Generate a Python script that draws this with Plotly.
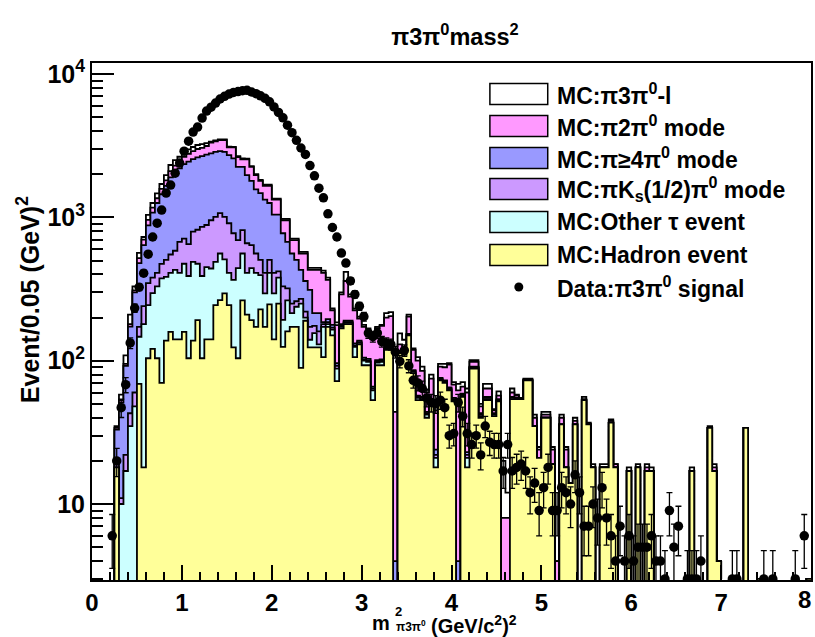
import numpy as np
import plotly.graph_objects as go

# ---------------- data (bins of 0.05 (GeV/c^2)^2 from 0 to 8) ----------------
bin_width = 0.05
n_bins = 160

hadron = [
    0, 0, 0, 0, 0, 18, 0, 0, 0, 0,
    69, 18, 104, 121, 104, 70, 138, 159, 141, 141,
    159, 104, 138, 192, 104, 141, 141, 244, 265, 295,
    244, 124, 104, 264, 210, 192, 172, 228, 172, 247,
    141, 250, 125, 160, 172, 172, 89, 190, 124, 124,
    124, 106, 172, 150, 72, 168, 180, 180, 106, 130,
    93, 93, 53, 93, 93, 119, 119, 0, 113, 110,
    150, 82, 53, 53, 40, 50, 18, 73, 70, 62,
    52, 0, 56, 18, 88, 88, 40, 53, 53, 41,
    52, 0, 0, 54, 54, 54, 73, 73, 35, 21,
    40, 40, 19, 0, 36, 18, 14, 36, 0, 53,
    36, 18, 0, 18, 18, 37, 18, 0, 0, 17,
    0, 18, 0, 17, 17, 0, 0, 0, 0, 0,
    0, 0, 0, 17, 0, 0, 0, 34, 17, 4,
    0, 0, 0, 0, 0, 34, 0, 0, 3, 0,
    0, 0, 0, 0, 0, 0, 0, 0, 0, 3,
]

other_tau = [
    0, 0, 0, 0, 0, 0, 10, 17, 35, 48,
    78, 162, 140, 175, 226, 305, 247, 251, 289, 269,
    316, 286, 352, 283, 286, 309, 299, 246, 295, 215,
    166, 242, 338, 296, 200, 250, 238, 167, 123, 163,
    154, 130, 68, 104, 43, 66, 161, 10, 16, 32,
    6, 66, 8, 15, 16, 4, 4, 4, 19, 3,
    7, 5, 9, 4, 5, 2, 2, 0, 2, 2,
    2, 2, 2, 1, 2, 2, 3, 1, 1, 1,
    1, 0, 1, 3, 1, 1, 1, 1, 1, 1,
    1, 0, 0, 1, 0, 0, 0, 0, 0, 0,
] + [0] * 60

pi_ks = [
    0, 0, 0, 0, 0, 1, 1, 5, 8, 12,
    25, 60, 104, 84, 80, 99, 121, 141, 155, 265,
    235, 260, 305, 345, 470, 435, 515, 520, 510, 500,
    500, 409, 253, 255, 250, 198, 150, 111, 115, 96,
    115, 40, 137, 56, 35, 22, 20, 20, 32, 19,
    30, 8, 6, 5, 4, 3, 2, 2, 3, 2,
    2, 2, 2, 2, 2, 1, 1, 0, 1, 1,
    1, 1, 1, 1, 1, 1, 1, 1, 1, 1,
    1, 0, 1, 1, 1, 1, 1, 1, 1, 0,
    0, 0, 0, 0, 1, 0, 0, 0, 0, 0,
] + [0] * 60

pi_ge4pi0 = [
    0, 0, 0, 0, 0, 14, 40, 70, 130, 240,
    308, 400, 532, 700, 850, 976, 1154, 1349, 1495, 1525,
    1640, 1800, 1755, 1800, 1820, 1855, 1845, 1860, 1830, 1860,
    1810, 1805, 1555, 1435, 1310, 1160, 1010, 969, 920, 754,
    635, 625, 445, 355, 310, 246, 160, 140, 140, 40,
    55, 6, 9, 8, 4, 5, 4, 4, 4, 3,
    3, 3, 2, 2, 2, 2, 2, 4, 1, 1,
    1, 1, 1, 1, 1, 1, 2, 1, 1, 1,
    1, 4, 1, 1, 1, 1, 1, 1, 1, 1,
    1, 0, 0, 1, 0, 0, 0, 0, 0, 0,
] + [0] * 60

pi2pi0 = [
    0, 0, 0, 0, 0, 1, 2, 3, 7, 10,
    40, 60, 80, 90, 100, 130, 150, 200, 220, 250,
    300, 330, 350, 380, 380, 410, 530, 530, 560, 590,
    360, 500, 390, 290, 570, 450, 400, 325, 330, 400,
    285, 285, 180, 280, 135, 189, 130, 200, 118, 215,
    215, 224, 171, 47, 81, 110, 170, 90, 93, 59,
    67, 57, 84, 67, 73, 76, 81, 40, 13, 11,
    49, 33, 43, 29, 16, 21, 21, 15, 17, 29,
    13, 58, 7, 37, 7, 7, 5, 8, 8, 2,
    3, 8, 8, 4, 2, 0, 1, 1, 5, 3,
    2, 2, 5, 4, 4, 6, 0, 2, 0, 1,
    0, 0, 0, 0, 0, 1, 1, 0, 0, 0,
    0, 0, 0, 1, 0, 0, 0, 0, 0, 0,
    0, 0, 0, 0, 0, 0, 0, 0, 1, 0,
] + [0] * 20

pi3pi0_l = [
    0, 0, 0, 0, 0, 1, 5, 14, 30, 20,
    46, 30, 80, 90, 110, 130, 160, 220, 210, 200,
    220, 200, 200, 200, 190, 150, 50, 40, 40, 40,
    40, 30, 40, 40, 30, 30, 30, 30, 30, 30,
    20, 20, 20, 20, 15, 15, 15, 15, 15, 15,
    15, 15, 14, 7, 8, 10, 57, 10, 7, 6,
    6, 5, 5, 4, 3, 15, 13, 73, 25, 15,
    7, 3, 6, 6, 3, 5, 5, 4, 5, 2,
    3, 7, 5, 4, 3, 3, 2, 5, 5, 1,
    4, 12, 4, 4, 1, 1, 1, 1, 2, 1,
    2, 2, 1, 0, 2, 1, 0, 2, 0, 2,
    1, 1, 0, 1, 1, 1, 0, 0, 0, 1,
    0, 1, 0, 1, 1, 0, 0, 0, 0, 0,
    0, 0, 0, 1, 0, 0, 0, 1, 1, 0,
] + [0] * 20

data_signal = [
    0, 0, 0, 0, 6, 20, 47, 68, 133, 233,
    326, 408, 554, 730, 912, 1125, 1478, 1680, 2036, 2393,
    2900, 3400, 3940, 4270, 4930, 5520, 5880, 6280, 6700, 7000,
    7250, 7450, 7550, 7650, 7700, 7500, 7300, 7050, 6780, 6400,
    5900, 5400, 4950, 4400, 3900, 3450, 3050, 2750, 2300, 1950,
    1600, 1370, 1060, 850, 730, 564, 480, 360, 290, 240,
    203, 156, 147, 156, 136, 133, 130, 115, 99, 118,
    92, 73, 70, 64, 55, 51, 50, 53, 47, 30,
    31, 51, 41, 31, 26, 30, 22, 35, 27, 26,
    26, 17, 26, 17, 18, 19, 17, 12, 14, 9,
    13, 18, 9, 9, 13, 12, 10, 16, 12, 7,
    7, 10, 8, 13, 8, 6, 4, 7, 4, 6,
    4, 5, 5, 5, 6, 4, 4, 3, 9, 5,
    7, 0, 3, 3, 3, 4, 0, 0, 0, 0,
    0, 0, 3, 3, 0, 0, 0, 0, 0, 3,
    0, 3, 0, 0, 0, 0, 3, 0, 6, 0,
]

# stack order: bottom -> top
layers = [
    ("MC:Hadron event", hadron, "#ffff99"),
    ("MC:Other τ event", other_tau, "#ccffff"),
    ("MC:πK_s(1/2)π0 mode", pi_ks, "#cc99ff"),
    ("MC:π≥4π0 mode", pi_ge4pi0, "#9999ff"),
    ("MC:π2π0 mode", pi2pi0, "#ff99ff"),
    ("MC:π3π0-l", pi3pi0_l, "#ffffff"),
]

legend_labels = [
    "MC:π3π<sup>0</sup>-l",
    "MC:π2π<sup>0</sup> mode",
    "MC:π≥4π<sup>0</sup> mode",
    "MC:πK<sub>s</sub>(1/2)π<sup>0</sup> mode",
    "MC:Other τ event",
    "MC:Hadron event",
]
legend_colors = ["#ffffff", "#ff99ff", "#9999ff", "#cc99ff", "#ccffff", "#ffff99"]
x_tick_values = list(range(0, 9))

# ---------------- figure ----------------
edges = np.arange(n_bins + 1) * bin_width
centers = edges[:-1] + bin_width / 2
FLOOR = 0.1  # below the visible log range

cum = np.cumsum(np.array([np.array(l[1], dtype=float) for l in layers]), axis=0)

fig = go.Figure()
for k in range(len(layers) - 1, -1, -1):
    vals = np.where(cum[k] > 0, cum[k], FLOOR)
    yv = np.append(vals, vals[-1])
    fig.add_trace(go.Scatter(x=edges, y=np.full(edges.shape, FLOOR), mode="lines",
                             line=dict(width=0, shape="hv"), showlegend=False,
                             hoverinfo="skip"))
    fig.add_trace(go.Scatter(x=edges, y=yv, mode="lines", fill="tonexty",
                             fillcolor=layers[k][2],
                             line=dict(color="black", width=1.8, shape="hv"),
                             showlegend=False, name=layers[k][0]))

d = np.array(data_signal, dtype=float)
mask = d > 0
fig.add_trace(go.Scatter(
    x=centers[mask], y=d[mask], mode="markers",
    marker=dict(color="black", size=9.5, symbol="circle"),
    error_y=dict(type="data", array=np.sqrt(d[mask]), color="black",
                 thickness=1.3, width=3),
    showlegend=False, name="Data"))

# geometry helpers (pixel -> paper)
PL, PR, PT, PB = 92, 813, 63, 580
def px(x):
    return (x - PL) / (PR - PL)
def py(y):
    return (PB - y) / (PB - PT)

FONT = "Liberation Sans"
LEG_SIZE = 23
TICK_SIZE = 24

shapes = []
annotations = []
row_y = [94, 126, 158, 189, 222, 255]
for i, (lab, col) in enumerate(zip(legend_labels, legend_colors)):
    yc = row_y[i]
    shapes.append(dict(type="rect", xref="paper", yref="paper",
                       x0=px(491), x1=px(549), y0=py(yc + 10.5), y1=py(yc - 10.5),
                       fillcolor=col, line=dict(color="black", width=1.5)))
    annotations.append(dict(text="<b>" + lab + "</b>", xref="paper", yref="paper",
                            x=px(556), y=py(yc), xanchor="left", yanchor="middle",
                            showarrow=False, font=dict(family=FONT, size=LEG_SIZE, color="black")))
shapes.append(dict(type="circle", xref="paper", yref="paper",
                   x0=px(515.5), x1=px(524.5), y0=py(291.5), y1=py(282.5),
                   fillcolor="black", line=dict(color="black", width=0)))
annotations.append(dict(text="<b>Data:π3π<sup>0</sup> signal</b>", xref="paper", yref="paper",
                        x=px(556), y=py(287), xanchor="left", yanchor="middle",
                        showarrow=False, font=dict(family=FONT, size=LEG_SIZE, color="black")))

# axis titles
annotations.append(dict(text="<b>Event/0.05 (GeV)<sup>2</sup></b>", xref="paper", yref="paper",
                        x=px(28), y=py(300), textangle=-90, xanchor="center", yanchor="middle",
                        showarrow=False, font=dict(family=FONT, size=25, color="black")))
annotations.append(dict(text="<b>m</b>", xref="paper", yref="paper", x=px(393), y=py(623),
                        xanchor="right", yanchor="middle", showarrow=False,
                        font=dict(family=FONT, size=20, color="black")))
annotations.append(dict(text="<b>2</b>", xref="paper", yref="paper", x=px(394), y=py(611),
                        xanchor="left", yanchor="middle", showarrow=False,
                        font=dict(family=FONT, size=13, color="black")))
annotations.append(dict(text="<b>π3π<sup>0</sup></b>", xref="paper", yref="paper", x=px(395), y=py(636),
                        xanchor="left", yanchor="bottom", showarrow=False,
                        font=dict(family=FONT, size=12, color="black")))
annotations.append(dict(text="<b>(GeV/c<sup>2</sup>)<sup>2</sup></b>", xref="paper", yref="paper",
                        x=px(430), y=py(624), xanchor="left", yanchor="middle", showarrow=False,
                        font=dict(family=FONT, size=20, color="black")))
# last x tick label, kept inside the page
annotations.append(dict(text="<b>%d</b>" % x_tick_values[-1], xref="paper", yref="paper",
                        x=px(815), y=py(599), xanchor="right", yanchor="middle", showarrow=False,
                        font=dict(family=FONT, size=TICK_SIZE, color="black")))

y_major = [10, 100, 1000, 10000]
y_major_text = ["<b>10</b>", "<b>10<sup>2</sup></b>", "<b>10<sup>3</sup></b>", "<b>10<sup>4</sup></b>"]
y_minor = [m * 10 ** e for e in range(0, 4) for m in range(2, 10) if 2.95 < m * 10 ** e < 11900]

fig.update_layout(
    width=815, height=637,
    margin=dict(l=PL, r=815 - PR, t=PT, b=637 - PB),
    paper_bgcolor="white", plot_bgcolor="white",
    showlegend=False,
    title=dict(text="<b>π3π<sup>0</sup>mass<sup>2</sup></b>", x=455 / 815, xanchor="center",
               y=1 - 37 / 637, yanchor="middle", yref="container",
               font=dict(family=FONT, size=23.5, color="black")),
    shapes=shapes, annotations=annotations,
    xaxis=dict(range=[0, 8], showgrid=False, zeroline=False, showline=True, mirror=True,
               linecolor="black", linewidth=2, ticks="inside", ticklen=15, tickwidth=2,
               tickcolor="black", tickvals=x_tick_values,
               ticktext=["<b>%d</b>" % v for v in x_tick_values[:-1]] + [""],
               tickfont=dict(family=FONT, size=TICK_SIZE, color="black"),
               minor=dict(ticks="inside", ticklen=8, tickwidth=1.5, tickcolor="black",
                          dtick=0.2, showgrid=False)),
    yaxis=dict(type="log", range=[np.log10(2.95), np.log10(11950)], showgrid=False,
               zeroline=False, showline=True, mirror=True, linecolor="black", linewidth=2,
               ticks="inside", ticklen=22, tickwidth=2, tickcolor="black",
               tickvals=y_major, ticktext=y_major_text,
               tickfont=dict(family=FONT, size=25, color="black"),
               minor=dict(ticks="inside", ticklen=11, tickwidth=1.5, tickcolor="black",
                          tickvals=y_minor, showgrid=False)),
)

fig.write_html("out.html")
